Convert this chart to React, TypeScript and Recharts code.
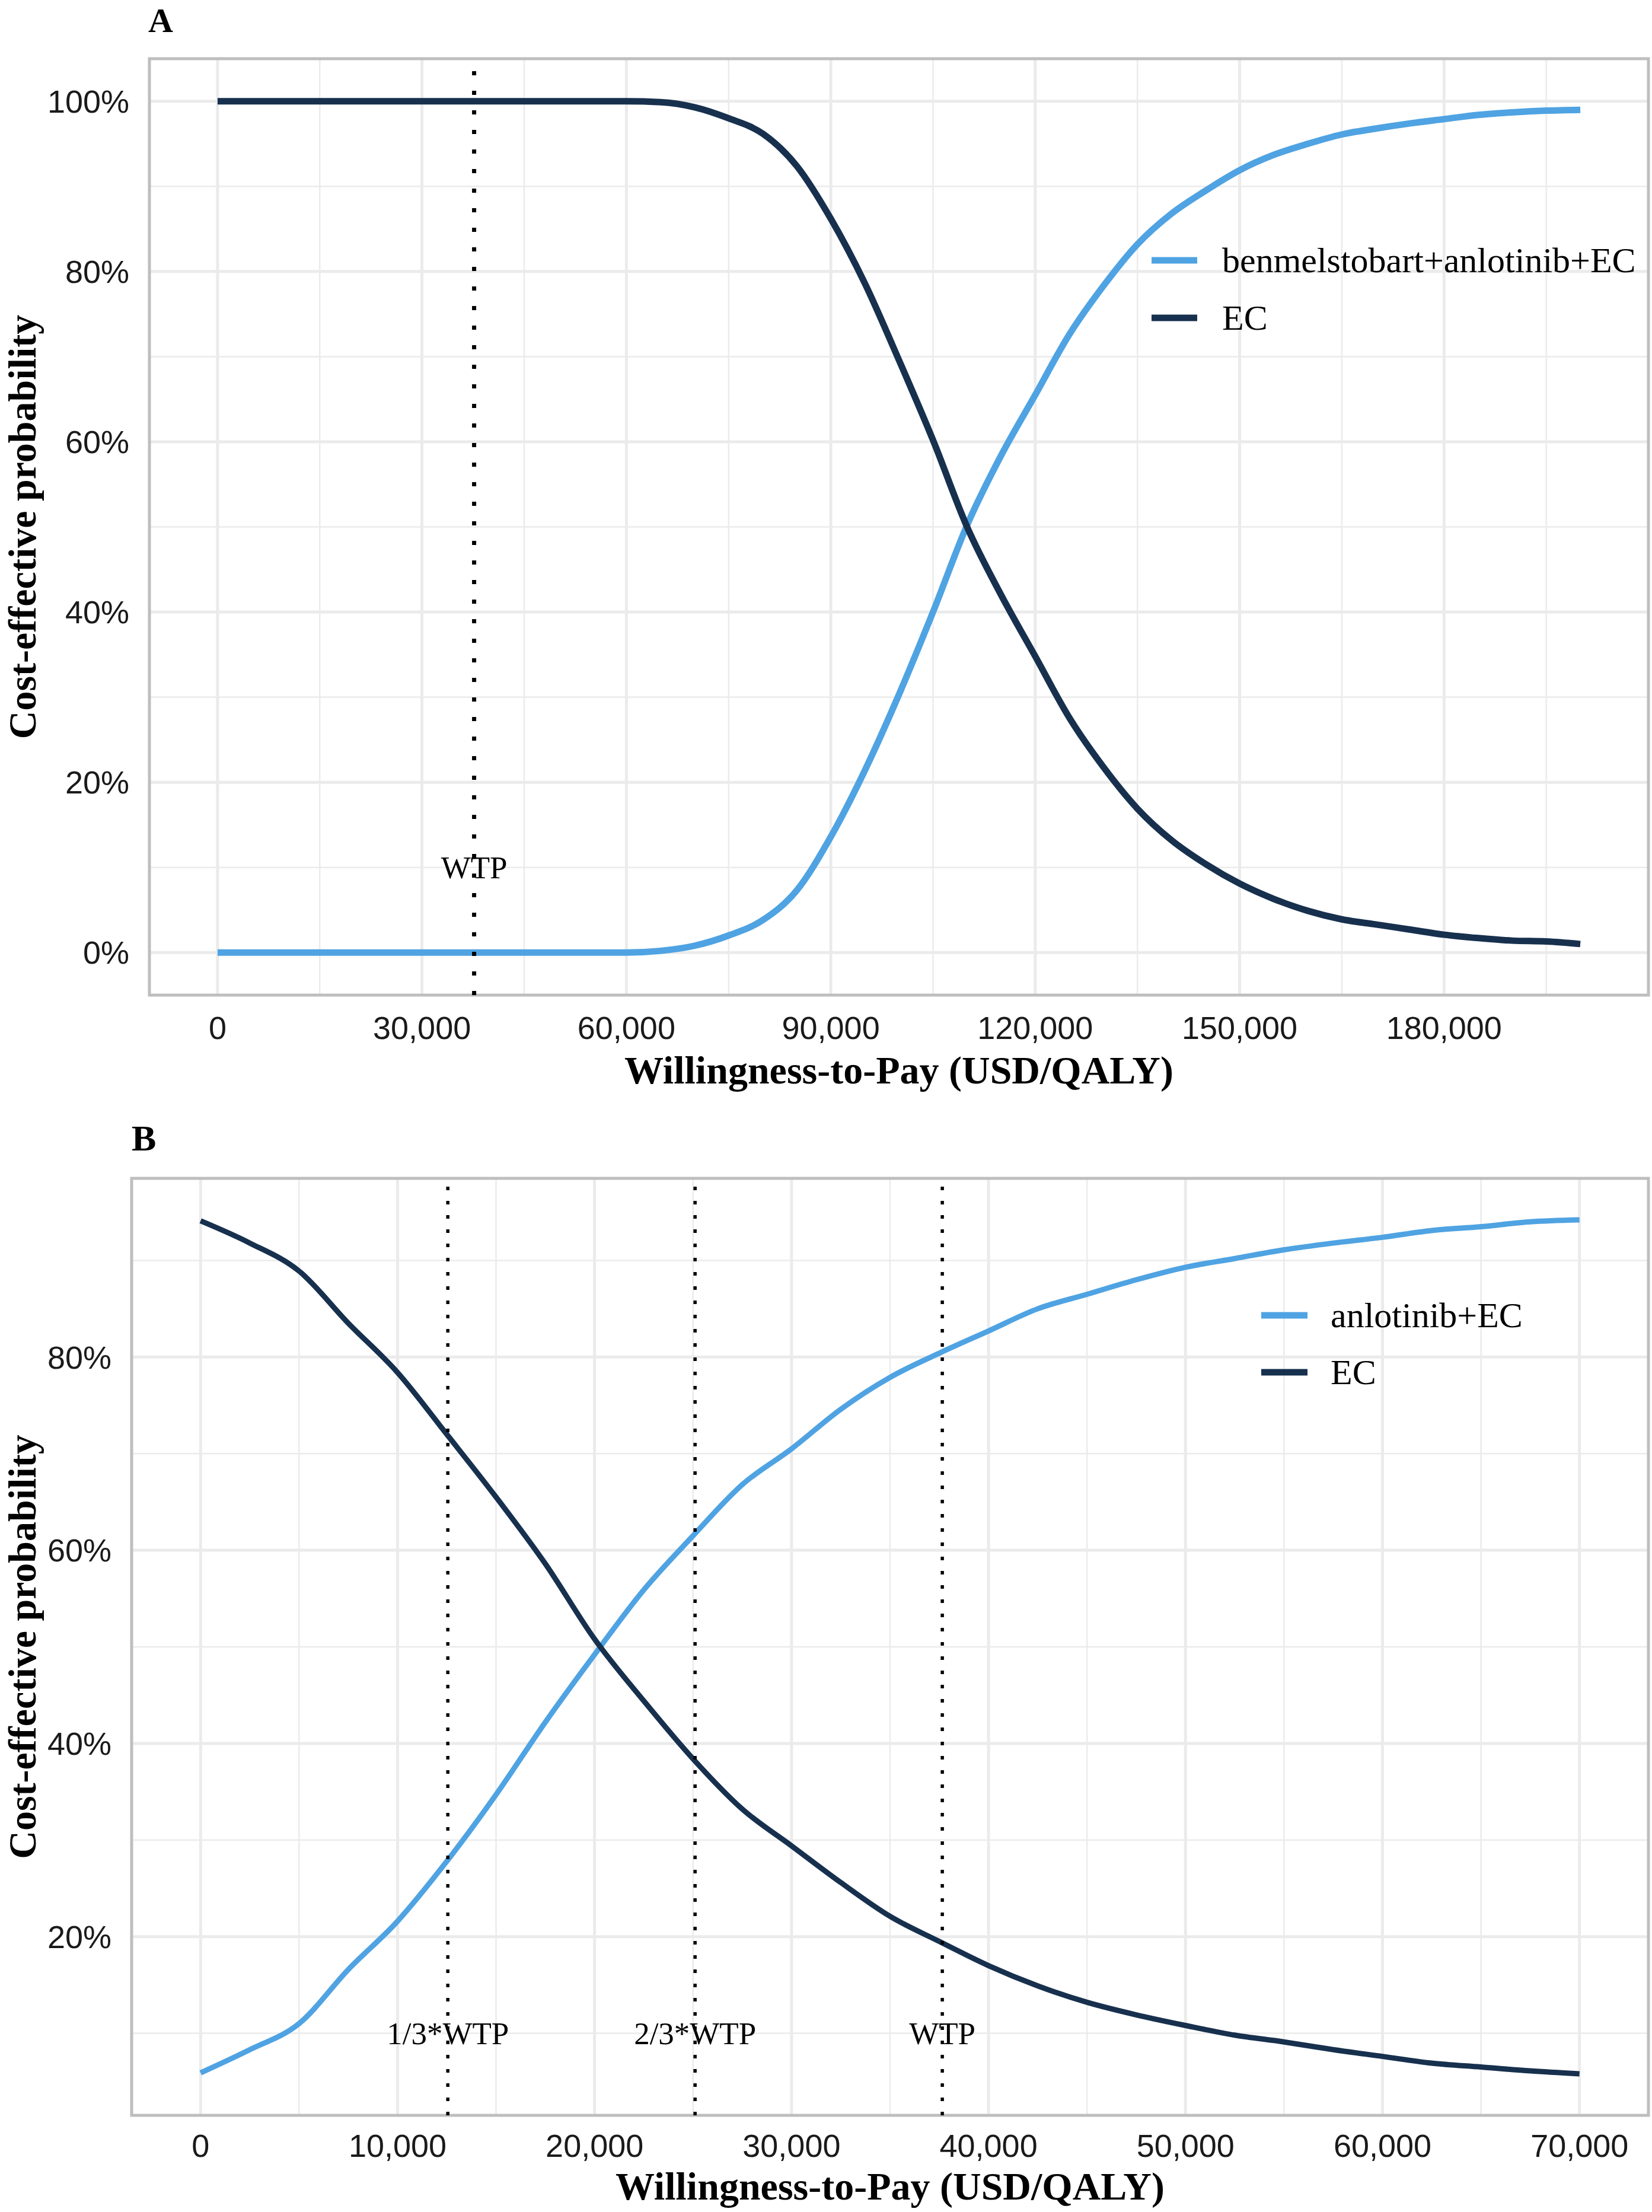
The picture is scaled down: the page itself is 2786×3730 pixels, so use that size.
import React from "react";
import {
  CartesianGrid,
  Legend,
  Line,
  LineChart,
  ReferenceArea,
  ReferenceDot,
  ReferenceLine,
  XAxis,
  YAxis,
} from "recharts";

const BLUE = "#4FA3E2";
const NAVY = "#17304E";
const GRID = "#EBEBEB";
const BORDER = "#BEBEBE";
const SERIF = "'Liberation Serif', 'Times New Roman', serif";
const SANS = "'Liberation Sans', Arial, sans-serif";

// ---- panel A: benmelstobart+anlotinib+EC vs EC ----
const wtpA = [
  0, 5000, 10000, 15000, 20000, 25000, 30000, 35000, 40000, 45000, 50000, 55000,
  60000, 65000, 70000, 75000, 80000, 85000, 90000, 95000, 100000, 105000, 110000,
  115000, 120000, 125000, 130000, 135000, 140000, 145000, 150000, 155000, 160000,
  165000, 170000, 175000, 180000, 185000, 190000, 195000, 200000,
];
const comboA = [
  0, 0, 0, 0, 0, 0, 0, 0, 0, 0, 0, 0,
  0, 0.2, 0.8, 2.0, 3.8, 7.3, 13.6, 21.4, 30.3, 40.0, 50.2,
  58.4, 65.5, 72.6, 78.3, 83.2, 86.8, 89.5, 91.9, 93.7, 95.0,
  96.1, 96.8, 97.4, 97.9, 98.4, 98.7, 98.9, 99.0,
];
const ecA = [
  100, 100, 100, 100, 100, 100, 100, 100, 100, 100, 100, 100,
  100, 99.9, 99.3, 98.0, 96.2, 92.4, 86.2, 78.6, 69.6, 60.2, 50.0,
  42.0, 34.8, 27.6, 21.8, 16.9, 13.2, 10.4, 8.1, 6.3, 4.9,
  3.9, 3.3, 2.7, 2.1, 1.7, 1.4, 1.3, 1.0,
];
const xTicksA = [0, 30000, 60000, 90000, 120000, 150000, 180000];
const xMinorA = [15000, 45000, 75000, 105000, 135000, 165000, 195000];
const yTicksA = [0, 20, 40, 60, 80, 100];
const yMinorA = [10, 30, 50, 70, 90];
const marksA = [37653];
const markLabelsA = ["WTP"];
const legendOrderA = ["benmelstobart+anlotinib+EC", "EC"];

// ---- panel B: anlotinib+EC vs EC ----
const wtpB = [
  0, 2500, 5000, 7500, 10000, 12500, 15000, 17500, 20000, 22500, 25000, 27500,
  30000, 32500, 35000, 37500, 40000, 42500, 45000, 47500, 50000, 52500, 55000,
  57500, 60000, 62500, 65000, 67500, 70000,
];
const comboB = [
  5.9, 8.3, 11.0, 16.6, 21.6, 27.8, 34.7, 42.2, 49.2, 55.9, 61.5, 66.8,
  70.5, 74.6, 77.9, 80.4, 82.7, 85.0, 86.5, 88.0, 89.3, 90.2, 91.1,
  91.8, 92.4, 93.1, 93.5, 94.0, 94.2,
];
const ecB = [
  94.1, 91.8, 88.9, 83.5, 78.4, 72.0, 65.5, 58.6, 50.8, 44.4, 38.4, 33.2,
  29.4, 25.6, 22.1, 19.5, 17.0, 14.9, 13.2, 11.9, 10.8, 9.8, 9.1,
  8.3, 7.6, 6.9, 6.5, 6.1, 5.8,
];
const xTicksB = [0, 10000, 20000, 30000, 40000, 50000, 60000, 70000];
const xMinorB = [5000, 15000, 25000, 35000, 45000, 55000, 65000];
const yTicksB = [20, 40, 60, 80];
const yMinorB = [10, 30, 50, 70, 90];
const marksB = [12551, 25102, 37653];
const markLabelsB = ["1/3*WTP", "2/3*WTP", "WTP"];
const legendOrderB = ["anlotinib+EC", "EC"];

const rowsA = wtpA.map((w, i) => ({ wtp: w, combo: comboA[i], ec: ecA[i] }));
const rowsB = wtpB.map((w, i) => ({ wtp: w, combo: comboB[i], ec: ecB[i] }));

const fmtMoney = (v: number) => v.toLocaleString("en-US");
const fmtPct = (v: number) => `${v}%`;

const tickStyle = { fontSize: 54, fontFamily: SANS, fill: "#1a1a1a" };
const titleProps = { fontSize: 66, fontFamily: SERIF, fontWeight: 700, fill: "#000" };

function LegendBox({ payload, order, keyWidth, textX, rowGap }: any) {
  const items = [...(payload || [])].sort(
    (a: any, b: any) => order.indexOf(a.value) - order.indexOf(b.value)
  );
  return (
    <svg width={900} height={60 + rowGap * 2}>
      {items.map((p: any, i: number) => {
        const y = 48 + i * rowGap;
        return (
          <g key={p.value}>
            <line x1={0} x2={keyWidth} y1={y} y2={y} stroke={p.color} strokeWidth={11} />
            <text x={textX} y={y + 20} fontFamily={SERIF} fontSize={60} fill="#000">
              {p.value}
            </text>
          </g>
        );
      })}
    </svg>
  );
}

export default function App() {
  return (
    <div style={{ position: "absolute", left: 0, top: 0, width: 2786, height: 3730, background: "#fff" }}>
      <div style={{ position: "absolute", left: 0, top: 0 }}>
        <LineChart width={2786} height={1880} data={rowsA} margin={{ top: 99, right: 6, bottom: 52, left: 0 }}>
          <CartesianGrid stroke={GRID} strokeWidth={2.5} horizontalValues={yMinorA} verticalValues={xMinorA} />
          <CartesianGrid stroke={GRID} strokeWidth={5} horizontalValues={yTicksA} verticalValues={xTicksA} />
          <XAxis
            dataKey="wtp"
            type="number"
            domain={[-10000, 210000]}
            ticks={xTicksA}
            interval={0}
            tickFormatter={fmtMoney}
            axisLine={false}
            tickLine={false}
            tickSize={0}
            tickMargin={36}
            height={150}
            tick={tickStyle}
            label={{ value: "Willingness-to-Pay (USD/QALY)", position: "insideBottom", offset: 1, ...titleProps }}
          />
          <YAxis
            type="number"
            domain={[-5, 105]}
            ticks={yTicksA}
            interval={0}
            tickFormatter={fmtPct}
            axisLine={false}
            tickLine={false}
            tickSize={0}
            tickMargin={34}
            width={252}
            tick={tickStyle}
            label={{
              value: "Cost-effective probability",
              angle: -90,
              position: "insideLeft",
              offset: 37,
              style: { textAnchor: "middle" },
              ...titleProps,
            }}
          />
          <Line
            name="benmelstobart+anlotinib+EC"
            dataKey="combo"
            type="monotone"
            stroke={BLUE}
            strokeWidth={11}
            dot={false}
            isAnimationActive={false}
          />
          <Line
            name="EC"
            dataKey="ec"
            type="monotone"
            stroke={NAVY}
            strokeWidth={11}
            dot={false}
            isAnimationActive={false}
          />
          {marksA.map((m) => (
            <ReferenceLine key={m} x={m} stroke="#000" strokeWidth={7} strokeDasharray="7 26" />
          ))}
          {marksA.map((m, i) => (
            <ReferenceDot
              key={`l${m}`}
              x={m}
              y={10}
              r={0}
              fill="none"
              stroke="none"
              label={{ value: markLabelsA[i], position: "center", fontSize: 53, fontFamily: SERIF, fill: "#000" }}
            />
          ))}
          <ReferenceArea
            x1={-10000}
            x2={210000}
            y1={-5}
            y2={105}
            fill="none"
            fillOpacity={0}
            stroke={BORDER}
            strokeWidth={5}
            ifOverflow="visible"
          />
          <Legend
            layout="horizontal"
            verticalAlign="middle"
            align="center"
            wrapperStyle={{ left: 1942, top: 391, width: 900, height: 260 }}
            content={(props: any) => (
              <LegendBox payload={props.payload} order={legendOrderA} keyWidth={77} textX={119} rowGap={97} />
            )}
          />
        </LineChart>
      </div>

      <div style={{ position: "absolute", left: 0, top: 1880 }}>
        <LineChart width={2786} height={1850} data={rowsB} margin={{ top: 107, right: 6, bottom: 13, left: 0 }}>
          <CartesianGrid stroke={GRID} strokeWidth={2.5} horizontalValues={yMinorB} verticalValues={xMinorB} />
          <CartesianGrid stroke={GRID} strokeWidth={5} horizontalValues={yTicksB} verticalValues={xTicksB} />
          <XAxis
            dataKey="wtp"
            type="number"
            domain={[-3500, 73500]}
            ticks={xTicksB}
            interval={0}
            tickFormatter={fmtMoney}
            axisLine={false}
            tickLine={false}
            tickSize={0}
            tickMargin={32}
            height={150}
            tick={tickStyle}
            label={{ value: "Willingness-to-Pay (USD/QALY)", position: "insideBottom", offset: 8, ...titleProps }}
          />
          <YAxis
            type="number"
            domain={[1.5, 98.5]}
            ticks={yTicksB}
            interval={0}
            tickFormatter={fmtPct}
            axisLine={false}
            tickLine={false}
            tickSize={0}
            tickMargin={34}
            width={222}
            tick={tickStyle}
            label={{
              value: "Cost-effective probability",
              angle: -90,
              position: "insideLeft",
              offset: 37,
              style: { textAnchor: "middle" },
              ...titleProps,
            }}
          />
          <Line
            name="anlotinib+EC"
            dataKey="combo"
            type="monotone"
            stroke={BLUE}
            strokeWidth={9}
            dot={false}
            isAnimationActive={false}
          />
          <Line
            name="EC"
            dataKey="ec"
            type="monotone"
            stroke={NAVY}
            strokeWidth={9}
            dot={false}
            isAnimationActive={false}
          />
          {marksB.map((m) => (
            <ReferenceLine key={m} x={m} stroke="#000" strokeWidth={5.5} strokeDasharray="6 18" />
          ))}
          {marksB.map((m, i) => (
            <ReferenceDot
              key={`l${m}`}
              x={m}
              y={10}
              r={0}
              fill="none"
              stroke="none"
              label={{ value: markLabelsB[i], position: "center", fontSize: 53, fontFamily: SERIF, fill: "#000" }}
            />
          ))}
          <ReferenceArea
            x1={-3500}
            x2={73500}
            y1={1.5}
            y2={98.5}
            fill="none"
            fillOpacity={0}
            stroke={BORDER}
            strokeWidth={5}
            ifOverflow="visible"
          />
          <Legend
            layout="horizontal"
            verticalAlign="middle"
            align="center"
            wrapperStyle={{ left: 2127, top: 290, width: 650, height: 260 }}
            content={(props: any) => (
              <LegendBox payload={props.payload} order={legendOrderB} keyWidth={78} textX={117} rowGap={96} />
            )}
          />
        </LineChart>
      </div>

      <svg
        width={2786}
        height={3730}
        style={{ position: "absolute", left: 0, top: 0, pointerEvents: "none" }}
      >
        <text x={250} y={54} fontFamily={SERIF} fontWeight={700} fontSize={58} fill="#000">
          A
        </text>
        <text x={222} y={1940} fontFamily={SERIF} fontWeight={700} fontSize={62} fill="#000">
          B
        </text>
      </svg>
    </div>
  );
}
